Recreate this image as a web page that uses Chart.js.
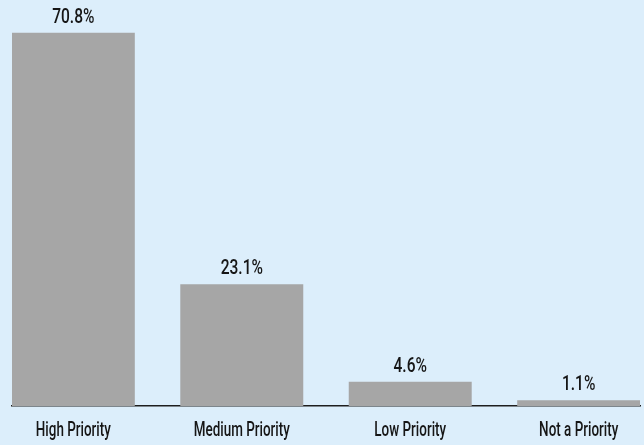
<!DOCTYPE html>
<html>
<head>
<meta charset="utf-8">
<script src="https://cdn.jsdelivr.net/npm/chart.js@4/dist/chart.umd.min.js"></script>
<style>
  html, body { margin: 0; padding: 0; background: #dceefb; }
  #wrap { width: 644px; height: 445px; position: relative; }
</style>
</head>
<body>
<div id="wrap"><canvas id="mychart"></canvas></div>
<script>
"use strict";
const CATEGORIES = ["High Priority", "Medium Priority", "Low Priority", "Not a Priority"];
const SHARES = [70.8, 23.1, 4.6, 1.1];

const FONT = "500 21px Roboto, 'DejaVu Sans Condensed', sans-serif";

(function() {
    const chart = document.getElementById("mychart");

    // fillText squeezed horizontally, the type is a condensed face
    function narrowText(ctx, text, x, y, squeeze) {
        ctx.save();
        ctx.translate(x, y);
        ctx.scale(squeeze, 1);
        ctx.fillText(text, 0, 0);
        ctx.restore();
    }

    // percentages above the bars and category names under the axis
    const barText = {
        id: "barText",
        afterDatasetsDraw(c) {
            const ctx = c.ctx;
            const meta = c.getDatasetMeta(0);
            const xScale = c.scales.x;
            const base = c.chartArea.bottom;
            ctx.save();
            ctx.font = FONT;
            ctx.fillStyle = "#161616";
            ctx.textAlign = "center";
            ctx.textBaseline = "alphabetic";
            meta.data.forEach((bar, i) => {
                narrowText(ctx, SHARES[i].toFixed(1) + "%", bar.x, bar.y - 10, 0.74);
            });
            CATEGORIES.forEach((name, i) => {
                narrowText(ctx, name, xScale.getPixelForValue(i), base + 30, 0.64);
            });
            ctx.restore();
        }
    };

    new Chart(chart, {
        type: "bar",
        data: {
            datasets: [{
                data: SHARES.map((v, i) => ({x: i, y: v})),
                backgroundColor: "#a6a6a6",
                borderWidth: 0,
                categoryPercentage: 1,
                barPercentage: 0.73
            }]
        },
        options: {
            responsive: true,
            maintainAspectRatio: false,
            animation: false,
            layout: {padding: {left: 12, right: 4, top: 0, bottom: 39}},
            plugins: {
                legend: {display: false},
                tooltip: {enabled: false}
            },
            scales: {
                x: {
                    type: "linear",
                    min: -0.364,
                    max: 3.364,
                    offset: false,
                    grid: {display: false, drawTicks: false},
                    border: {display: true, color: "#1e1e1e", width: 1.5},
                    afterBuildTicks: axis => {
                        axis.ticks = CATEGORIES.map((_, i) => ({value: i}));
                    },
                    ticks: {display: false}
                },
                y: {
                    display: false,
                    min: 0,
                    max: 77
                }
            }
        },
        plugins: [barText]
    });
})();
</script>
</body>
</html>
